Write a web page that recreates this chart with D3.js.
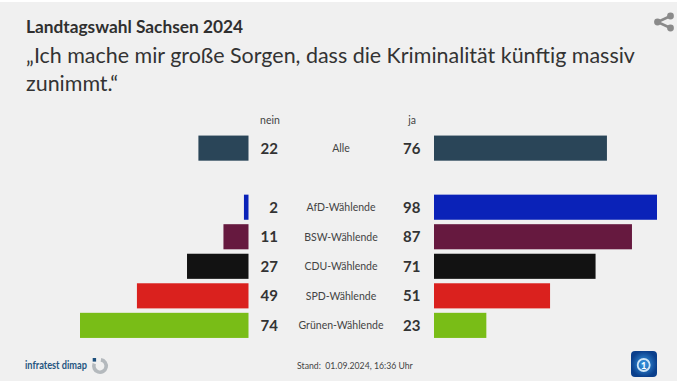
<!DOCTYPE html>
<html>
<head>
<meta charset="utf-8">
<script src="https://cdn.jsdelivr.net/npm/d3@7"></script>
<style>
  html, body { margin: 0; padding: 0; background: #fff; }
  svg { display: block; }
  text { font-family: "Lato", "Open Sans", sans-serif; }
</style>
</head>
<body>
<div id="chart"></div>
<script>
// values
const groups = ["Alle", "", "AfD-Wählende", "BSW-Wählende", "CDU-Wählende", "SPD-Wählende", "Grünen-Wählende"];
const neinValues = [22, null, 2, 11, 27, 49, 74];
const jaValues = [76, null, 98, 87, 71, 51, 23];
const barColors = ["#2a4558", null, "#0a22b8", "#66193f", "#121212", "#da211e", "#79bd17"];
const subtitleLines = ["„Ich mache mir große Sorgen, dass die Kriminalität künftig massiv", "zunimmt.“"];

const width = 677, height = 381;

const svg = d3.select("#chart").append("svg")
    .attr("width", width)
    .attr("height", height);

svg.append("rect")
    .attr("y", 2)
    .attr("width", width)
    .attr("height", height - 2)
    .attr("fill", "#f0f0f0");

const rowScale = d3.scaleBand()
    .domain(d3.range(groups.length))
    .range([133.5, 340])
    .paddingInner(0.15)
    .paddingOuter(0.07);

const neinScale = d3.scaleLinear().domain([0, 74]).range([248.5, 80]);
const jaScale = d3.scaleLinear().domain([0, 98]).range([434, 657]);

const rows = groups.map((g, i) => ({
    i: i, group: g, nein: neinValues[i], ja: jaValues[i], color: barColors[i]
})).filter(d => d.nein !== null);

// titles
svg.append("text").text("Landtagswahl Sachsen 2024")
    .attr("x", 26).attr("y", 33)
    .attr("font-size", 17.3).attr("font-weight", 700).attr("fill", "#2f2f2f");

svg.selectAll("text.subtitle").data(subtitleLines)
    .enter().append("text")
    .attr("class", "subtitle")
    .attr("x", 26)
    .attr("y", (d, i) => 63 + i * 28)
    .attr("font-size", 21.45)
    .attr("fill", "#333")
    .text(d => d);

// column heads
svg.append("text").text("nein")
    .attr("x", 270).attr("y", 124)
    .attr("text-anchor", "middle").attr("font-size", 10.5).attr("fill", "#444");
svg.append("text").text("ja")
    .attr("x", 412).attr("y", 124)
    .attr("text-anchor", "middle").attr("font-size", 10.5).attr("fill", "#444");

// bars
svg.selectAll("rect.nein").data(rows)
    .enter().append("rect")
    .attr("class", "nein")
    .attr("x", d => neinScale(d.nein))
    .attr("y", d => rowScale(d.i))
    .attr("width", d => neinScale(0) - neinScale(d.nein))
    .attr("height", rowScale.bandwidth())
    .attr("fill", d => d.color);

svg.selectAll("rect.ja").data(rows)
    .enter().append("rect")
    .attr("class", "ja")
    .attr("x", jaScale(0))
    .attr("y", d => rowScale(d.i))
    .attr("width", d => jaScale(d.ja) - jaScale(0))
    .attr("height", rowScale.bandwidth())
    .attr("fill", d => d.color);

const midY = d => rowScale(d.i) + rowScale.bandwidth() / 2;

svg.selectAll("text.neinval").data(rows)
    .enter().append("text")
    .attr("class", "neinval")
    .attr("x", 278).attr("y", midY).attr("dy", "0.36em")
    .attr("text-anchor", "end")
    .attr("font-size", 15).attr("font-weight", 700).attr("fill", "#333")
    .text(d => d.nein);

svg.selectAll("text.javal").data(rows)
    .enter().append("text")
    .attr("class", "javal")
    .attr("x", 420.5).attr("y", midY).attr("dy", "0.36em")
    .attr("text-anchor", "end")
    .attr("font-size", 15).attr("font-weight", 700).attr("fill", "#333")
    .text(d => d.ja);

svg.selectAll("text.group").data(rows)
    .enter().append("text")
    .attr("class", "group")
    .attr("x", 341).attr("y", midY).attr("dy", "0.36em")
    .attr("text-anchor", "middle")
    .attr("font-size", 10.5).attr("fill", "#444")
    .text(d => d.group);

// footer
svg.append("text").text("infratest dimap")
    .attr("x", 25).attr("y", 369)
    .attr("font-size", 10.5).attr("font-weight", 700).attr("fill", "#25557f")
    .attr("textLength", 62).attr("lengthAdjust", "spacingAndGlyphs");

const logo = svg.append("g").attr("transform", "translate(100,366)");
logo.append("path")
    .attr("d", d3.arc().innerRadius(4.4).outerRadius(8).startAngle(0.15).endAngle(5.1)())
    .attr("fill", "#b4b9bd");
logo.append("rect").attr("x", -7.3).attr("y", -8).attr("width", 3.4).attr("height", 3.6).attr("fill", "#1d4f7c");

svg.append("text").text("Stand:  01.09.2024, 16:36 Uhr")
    .attr("x", 297).attr("y", 369)
    .attr("font-size", 8.7).attr("fill", "#444").attr("xml:space", "preserve");

// share icon
const share = svg.append("g").attr("fill", "#8a8a8a");
share.append("path")
    .attr("d", "M670.5 16 L657.5 22 L670.5 28")
    .attr("fill", "none").attr("stroke", "#8a8a8a").attr("stroke-width", 2.5);
[[670.5, 16, 3.4], [657.5, 22, 3.4], [670.5, 28, 3.4]].forEach(c => {
    share.append("circle").attr("cx", c[0]).attr("cy", c[1]).attr("r", c[2]);
});

// tagesschau logo
const grad = svg.append("defs").append("radialGradient").attr("id", "blue");
grad.append("stop").attr("offset", "0%").attr("stop-color", "#3a9be6");
grad.append("stop").attr("offset", "100%").attr("stop-color", "#0a3f8c");
svg.append("rect")
    .attr("x", 631).attr("y", 351).attr("width", 26).attr("height", 26).attr("rx", 4)
    .attr("fill", "url(#blue)");
svg.append("circle").attr("cx", 643.7).attr("cy", 365).attr("r", 6)
    .attr("fill", "none").attr("stroke", "#cfe6f7").attr("stroke-width", 1.8);
svg.append("text").text("1")
    .attr("x", 643.7).attr("y", 368.5).attr("text-anchor", "middle")
    .attr("font-size", 10).attr("font-weight", 700).attr("fill", "#fff");
</script>
</body>
</html>
